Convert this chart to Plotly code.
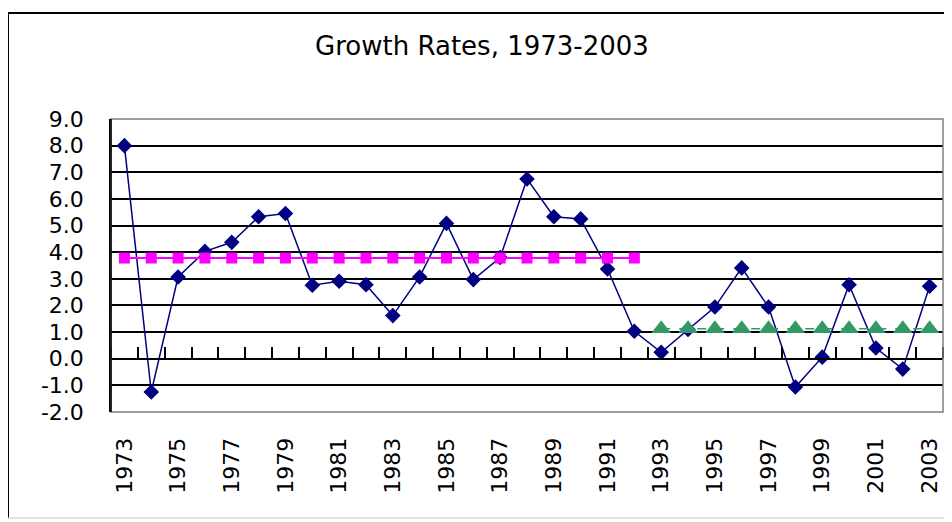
import plotly.graph_objects as go

years = list(range(1973, 2004))
growth = [8.0, -1.25, 3.07, 4.03, 4.37, 5.33, 5.45, 2.76, 2.91, 2.78,
          1.62, 3.07, 5.08, 2.97, 3.8, 6.75, 5.33, 5.25, 3.37, 1.03,
          0.24, 1.1, 1.94, 3.41, 1.94, -1.06, 0.06, 2.78, 0.40, -0.39, 2.72]
avg_years_1 = list(range(1973, 1993))
avg_1 = [3.78] * len(avg_years_1)
avg_years_2 = list(range(1993, 2004))
avg_2 = [1.13] * len(avg_years_2)
tick_years = list(range(1973, 2004, 2))
tick_labels = [str(y) for y in tick_years]
y_ticks = [9, 8, 7, 6, 5, 4, 3, 2, 1, 0, -1, -2]
y_labels = ["%.1f" % v for v in y_ticks]

# page body has an 8px default margin; lay out in window pixels and offset
OFF = 8
W, H = 952 - OFF, 522 - OFF
L, R, T, B = 111 - OFF, 9, 119 - OFF, 110
pw, ph = W - L - R, H - T - B

FONT = "DejaVu Sans"

fig = go.Figure()
fig.add_trace(go.Scatter(
    x=years, y=growth, mode="lines+markers",
    line=dict(color="#000080", width=1.5),
    marker=dict(symbol="diamond", size=12, color="#000080"),
    showlegend=False))
fig.add_trace(go.Scatter(
    x=avg_years_1, y=avg_1, mode="lines+markers",
    line=dict(color="#FF00FF", width=2),
    marker=dict(symbol="square", size=11, color="#FF00FF"),
    showlegend=False))
fig.add_trace(go.Scatter(
    x=avg_years_2, y=avg_2, mode="lines+markers",
    line=dict(color="#339966", width=1.5, dash="dash"),
    marker=dict(symbol="triangle-up", size=17, color="#339966"),
    showlegend=False))

x_lo, x_hi = years[0] - 0.5, years[-1] + 0.5
boundaries = [x_lo + k for k in range(len(years) + 1)]
ymin, ymax = -2, 9

fig.update_layout(
    width=W, height=H,
    margin=dict(l=L, r=R, t=T, b=B, autoexpand=False),
    paper_bgcolor="white", plot_bgcolor="white",
    font=dict(family=FONT, size=21, color="black"),
    title=dict(text="Growth Rates, 1973-2003", x=((482 - OFF) / W), xanchor="center",
               xref="container", y=1 - (46 - OFF) / H, yanchor="middle", yref="container",
               font=dict(family=FONT, size=26, color="black"),
               automargin=False),
    xaxis=dict(range=[x_lo, x_hi], tickmode="array", tickvals=tick_years,
               ticktext=tick_labels, tickangle=-90, showgrid=False, zeroline=False,
               showline=False, ticks="outside", ticklen=16, automargin=False,
               tickcolor="rgba(0,0,0,0)", tickfont=dict(family=FONT, size=22)),
    xaxis2=dict(range=[x_lo, x_hi], overlaying="x", anchor="free",
                position=(0 - ymin) / (ymax - ymin), side="top", automargin=False,
                tickmode="array", tickvals=boundaries, showticklabels=False,
                ticks="outside", ticklen=11, tickwidth=1.5, tickcolor="black",
                showgrid=False, zeroline=False, showline=True,
                linecolor="black", linewidth=1.5),
    yaxis=dict(range=[ymin, ymax], tickmode="array", tickvals=y_ticks,
               ticktext=y_labels, showgrid=True, gridcolor="black", gridwidth=1.5,
               zeroline=False, showline=True, linecolor="black", linewidth=1.5,
               ticks="outside", ticklen=21, tickcolor="rgba(0,0,0,0)",
               automargin=False, tickfont=dict(family=FONT, size=22)),
)

# dummy trace to activate xaxis2
fig.add_trace(go.Scatter(x=[x_lo], y=[ymin], xaxis="x2", mode="markers",
                         marker=dict(opacity=0), showlegend=False, hoverinfo="skip"))

# plot area border (gray)
fig.add_shape(type="rect", xref="paper", yref="paper", x0=0, x1=1, y0=0, y1=1,
              line=dict(color="#808080", width=1.5), layer="above")
# y axis line over border
fig.add_shape(type="line", xref="paper", yref="paper", x0=0, x1=0, y0=0, y1=1,
              line=dict(color="black", width=1.5), layer="above")

# outer chart frame (window pixel coordinates)
def px_x(px):
    return (px - OFF - L) / pw

def px_y(py):
    return (H - B - (py - OFF)) / ph

fig.add_shape(type="line", xref="paper", yref="paper",
              x0=px_x(8), x1=px_x(8), y0=px_y(13), y1=px_y(519),
              line=dict(color="black", width=2))
fig.add_shape(type="line", xref="paper", yref="paper",
              x0=px_x(8), x1=px_x(960), y0=px_y(13), y1=px_y(13),
              line=dict(color="black", width=2))
fig.add_shape(type="line", xref="paper", yref="paper",
              x0=px_x(8), x1=px_x(960), y0=px_y(518), y1=px_y(518),
              line=dict(color="#d8d8d8", width=1.5))

fig.write_html("out.html")
